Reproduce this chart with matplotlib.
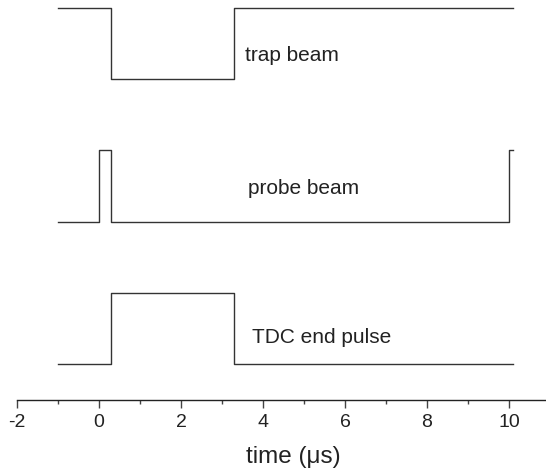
import matplotlib
matplotlib.use("Agg")
import matplotlib.pyplot as plt
from matplotlib.ticker import MultipleLocator

plt.rcParams['font.family'] = ['Liberation Sans', 'DejaVu Sans']
plt.rcParams['axes.unicode_minus'] = False

# Data: step-trace transition times (µs) and logic levels
trap_t = [-1.0, 0.3, 3.3, 10.1]
trap_v = [1, 0, 1, 1]
probe_t = [-1.0, 0.0, 0.3, 10.0, 10.1]
probe_v = [0, 1, 0, 1, 1]
tdc_t = [-1.0, 0.3, 3.3, 10.1]
tdc_v = [0, 1, 0, 0]

offsets = [4, 2, 0]
labels = ["trap beam", "probe beam", "TDC end pulse"]
label_x = [3.56, 3.63, 3.73]
label_y = [4.33, 2.46, 0.37]

fig = plt.figure(figsize=(5.46, 4.70), dpi=100)
ax = fig.add_axes([17/546, 70/470, 1 - 17/546, 400/470])

line_color = "#333333"
for t, v, off in zip([trap_t, probe_t, tdc_t], [trap_v, probe_v, tdc_v], offsets):
    ax.plot(t, [vi + off for vi in v], drawstyle="steps-post", color=line_color, lw=1.0)

for lab, x, y in zip(labels, label_x, label_y):
    ax.text(x, y, lab, ha="left", va="center", fontsize=15, color="#222222")

ax.set_xlim(-2, -2 + 529/41)
ax.set_ylim(-0.5, 5 + 8/72)

for s in ["left", "right", "top"]:
    ax.spines[s].set_visible(False)
ax.spines["bottom"].set_color("#222222")
ax.spines["bottom"].set_linewidth(1.0)
ax.set_yticks([])

ax.xaxis.set_major_locator(MultipleLocator(2))
ax.xaxis.set_minor_locator(MultipleLocator(1))
ax.tick_params(axis="x", which="major", direction="out", length=6, width=1,
               color="#444444", labelsize=14, labelcolor="#222222", pad=4)
ax.tick_params(axis="x", which="minor", direction="out", length=3, width=1,
               color="#444444")

ax.set_xlabel("time (\u03bcs)", fontsize=17.5, color="#222222")
ax.xaxis.set_label_coords((293 - 17) / 529, -0.115)

fig.savefig("out.png", dpi=100)
